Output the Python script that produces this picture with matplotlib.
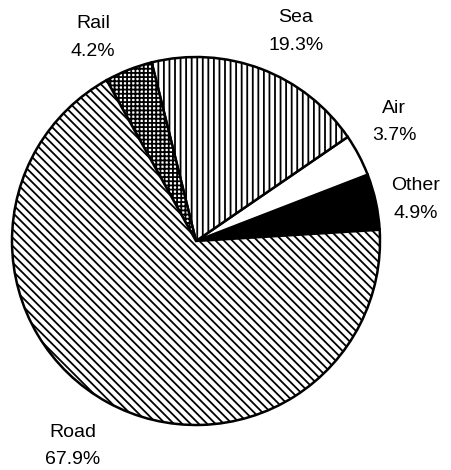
import matplotlib
matplotlib.use("Agg")
from matplotlib import pyplot as plt

# Share of transport by mode
modes = ['Other', 'Air', 'Sea', 'Rail', 'Road']
shares = [4.9, 3.7, 19.3, 4.2, 67.9]

colors = ['black', 'white', 'white', 'white', 'white']
hatches = ['', '', '|||', '++++', '\\\\\\\\']

# baseline of the name line for each label, pixel coords with y up
label_pos = [(416, 280), (394, 357), (296, 448), (93, 442), (73, 33)]
line_gap = 27.5

plt.rcParams['font.family'] = ['Liberation Sans', 'DejaVu Sans']
plt.rcParams['hatch.linewidth'] = 1.3
plt.rcParams['hatch.color'] = 'black'

fig = plt.figure(figsize=(4.52, 4.70), dpi=100)
ax = fig.add_axes([0, 0, 1, 1])

wedges, _ = ax.pie(shares, colors=colors, startangle=3.5, counterclock=True,
                   center=(196, 229), radius=184,
                   wedgeprops=dict(edgecolor='black', linewidth=1.8))
for w, h in zip(wedges, hatches):
    w.set_hatch(h)

ax.set_xlim(0, 452)
ax.set_ylim(0, 470)
ax.set_aspect('equal')
ax.axis('off')

for name, val, (x, y) in zip(modes, shares, label_pos):
    ax.text(x, y, name, ha='center', va='baseline', fontsize=14)
    ax.text(x, y - line_gap, f'{val:.1f}%', ha='center', va='baseline',
            fontsize=14)

fig.savefig('out.png', dpi=100, facecolor='white')
